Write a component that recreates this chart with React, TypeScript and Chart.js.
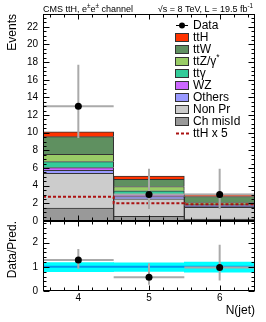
import React, { useEffect, useRef } from 'react';
import { Chart, registerables } from 'chart.js';
Chart.register(...registerables);

const FONT = '"Liberation Sans", Arial, Helvetica, sans-serif';

// ---------------- data ----------------
const nJetBins = [4, 5, 6];
const binHalfWidth = 0.5;
const chMisId = [1.45, 0.53, 0.22];
const nonPrompt = [3.96, 1.98, 1.33];
const others = [0.34, 0.27, 0.13];
const wz = [0.30, 0.19, 0.07];
const ttGamma = [0.68, 0.45, 0.10];
const ttZ = [0.82, 0.49, 0.25];
const ttW = [2.00, 0.82, 0.68];
const ttH = [0.55, 0.37, 0.26];
const ttHx5 = [2.75, 2.0, 1.9];
const dataObs = [13, 3, 3];
const dataLow = [9.4, 1.37, 1.37];
const dataHigh = [17.7, 5.92, 5.92];
const ratioObs = [1.28, 0.57, 0.97];
const ratioLow = [0.92, 0.26, 0.43];
const ratioHigh = [1.74, 1.15, 1.92];
const bandLow = [0.80, 0.81, 0.78];
const bandHigh = [1.18, 1.17, 1.20];
const unityLine = [1, 1, 1];
const xTickValues = [4, 5, 6];
const mainYTicks = [0, 2, 4, 6, 8, 10, 12, 14, 16, 18, 20, 22];
const ratioYTicks = [0, 1, 2];
const xRange = [3.5, 6.5];
const mainYRange = [0, 23.45];
const ratioYRange = [0, 2.9];

const stackNames = ['Ch misId', 'Non Pr', 'Others', 'WZ', 'ttγ', 'ttZ/γ*', 'ttW', 'ttH'];
const stackValues = [chMisId, nonPrompt, others, wz, ttGamma, ttZ, ttW, ttH];
const stackColors = ['#999999', '#cccccc', '#9999ff', '#cc66ff', '#33cc99', '#99cc66', '#5f9060', '#ff3300'];
const legendLabels = ['Data', 'ttH', 'ttW', 'ttZ/γ*', 'ttγ', 'WZ', 'Others', 'Non Pr', 'Ch misId', 'ttH x 5'];
const dashColor = '#aa1111';
const errColor = '#aaaaaa';

// ---------------- helpers ----------------
type Seg = [string, boolean?];
function drawRich(ctx: CanvasRenderingContext2D, segs: Seg[], x: number, y: number, size: number, align: 'left' | 'right') {
  const widths = segs.map(([t, sup]) => {
    ctx.font = `${sup ? size * 0.7 : size}px ${FONT}`;
    return ctx.measureText(t).width;
  });
  const total = widths.reduce((a, b) => a + b, 0);
  let cx = align === 'right' ? x - total : x;
  ctx.textAlign = 'left';
  segs.forEach(([t, sup], i) => {
    ctx.font = `${sup ? size * 0.7 : size}px ${FONT}`;
    ctx.fillText(t, cx, sup ? y - size * 0.4 : y);
    cx += widths[i];
  });
}

function frameTicksPlugin(id: string, xMinor: number, xMajor: number, yMinor: number, yMajor: number, xLen: number[], yLen: number[]) {
  return {
    id,
    afterDraw(chart: any) {
      const { ctx, chartArea: a } = chart;
      const xs = chart.scales.x;
      const ys = chart.scales.y;
      const L = Math.round(a.left) + 0.5;
      const R = Math.round(a.right) - 0.5;
      const T = Math.round(a.top) + 0.5;
      const B = Math.round(a.bottom) - 0.5;
      ctx.save();
      ctx.strokeStyle = '#000';
      ctx.lineWidth = 1;
      ctx.strokeRect(L, T, R - L, B - T);
      ctx.beginPath();
      const isMajor = (v: number, step: number) => Math.abs(v / step - Math.round(v / step)) < 1e-6;
      for (let k = Math.ceil(xs.min / xMinor - 1e-9); k <= Math.floor(xs.max / xMinor + 1e-9); k++) {
        const v = k * xMinor;
        const len = isMajor(v, xMajor) ? xLen[0] : xLen[1];
        const px = Math.round(xs.getPixelForValue(v)) + 0.5;
        ctx.moveTo(px, B); ctx.lineTo(px, B - len);
        ctx.moveTo(px, T); ctx.lineTo(px, T + len);
      }
      for (let k = Math.ceil(ys.min / yMinor - 1e-9); k <= Math.floor(ys.max / yMinor + 1e-9); k++) {
        const v = k * yMinor;
        const len = isMajor(v, yMajor) ? yLen[0] : yLen[1];
        const py = Math.round(ys.getPixelForValue(v)) + 0.5;
        ctx.moveTo(L, py); ctx.lineTo(L + len, py);
        ctx.moveTo(R, py); ctx.lineTo(R - len, py);
      }
      ctx.stroke();
      ctx.restore();
    },
  };
}

function errorBarPlugin(id: string, afterIndex: number, centers: number[], values: number[], lows: number[], highs: number[]) {
  return {
    id,
    afterDatasetDraw(chart: any, args: any) {
      if (args.index !== afterIndex) return;
      const { ctx, chartArea: a } = chart;
      const xs = chart.scales.x;
      const ys = chart.scales.y;
      ctx.save();
      ctx.beginPath();
      ctx.rect(a.left, a.top, a.right - a.left, a.bottom - a.top);
      ctx.clip();
      ctx.strokeStyle = errColor;
      ctx.lineWidth = 2;
      centers.forEach((c, i) => {
        const px = xs.getPixelForValue(c);
        const py = ys.getPixelForValue(values[i]);
        ctx.beginPath();
        ctx.moveTo(xs.getPixelForValue(c - binHalfWidth), py);
        ctx.lineTo(xs.getPixelForValue(c + binHalfWidth), py);
        ctx.moveTo(px, ys.getPixelForValue(lows[i]));
        ctx.lineTo(px, ys.getPixelForValue(highs[i]));
        ctx.stroke();
      });
      ctx.restore();
    },
  };
}

const stepData = (vals: number[]) => {
  const pts = nJetBins.map((x, i) => ({ x: x - binHalfWidth, y: vals[i] }));
  pts.push({ x: nJetBins[nJetBins.length - 1] + binHalfWidth, y: vals[vals.length - 1] });
  return pts;
};

const titlesLegendPlugin = {
  id: 'titlesLegend',
  afterDraw(chart: any) {
    const { ctx, chartArea: a } = chart;
    ctx.save();
    ctx.fillStyle = '#000';
    ctx.textBaseline = 'alphabetic';
    drawRich(ctx, [['CMS ttH, e'], ['±', true], ['e'], ['±', true], [' channel']], a.left, 12, 9, 'left');
    drawRich(ctx, [['√s = 8 TeV, L = 19.5 fb'], ['-1', true]], a.right - 2, 12, 9, 'right');

    const mx = 175;
    const tx = 193;
    legendLabels.forEach((lab, i) => {
      const y = 25 + 12 * i;
      if (lab === 'Data') {
        ctx.strokeStyle = '#000';
        ctx.lineWidth = 1;
        ctx.beginPath();
        ctx.moveTo(mx + 1, y + 0.5);
        ctx.lineTo(mx + 13, y + 0.5);
        ctx.stroke();
        ctx.fillStyle = '#000';
        ctx.beginPath();
        ctx.arc(mx + 7, y + 0.5, 3, 0, Math.PI * 2);
        ctx.fill();
      } else if (lab === 'ttH x 5') {
        ctx.strokeStyle = dashColor;
        ctx.lineWidth = 2;
        ctx.setLineDash([3, 2]);
        ctx.beginPath();
        ctx.moveTo(mx + 1, y + 0.5);
        ctx.lineTo(mx + 14, y + 0.5);
        ctx.stroke();
        ctx.setLineDash([]);
      } else {
        const idx = stackNames.indexOf(lab);
        ctx.fillStyle = stackColors[idx];
        ctx.fillRect(mx + 0.5, y - 4, 13, 9);
        ctx.strokeStyle = '#333';
        ctx.lineWidth = 1;
        ctx.strokeRect(mx + 0.5, y - 3.5, 13, 8);
      }
      ctx.fillStyle = '#000';
      ctx.textBaseline = 'middle';
      if (lab.endsWith('*')) {
        drawRich(ctx, [[lab.slice(0, -1)], ['*', true]], tx, y + 1, 12, 'left');
      } else {
        drawRich(ctx, [[lab]], tx, y + 1, 12, 'left');
      }
    });
    ctx.restore();
  },
};

export default function App() {
  const mainRef = useRef<HTMLCanvasElement>(null);
  const ratioRef = useRef<HTMLCanvasElement>(null);

  useEffect(() => {
    const cum = nJetBins.map(() => 0);
    const barDatasets: any[] = stackValues.map((vals, s) => {
      const data = nJetBins.map((x, i) => {
        const lo = cum[i];
        const hi = lo + vals[i];
        cum[i] = hi;
        return { x, y: [lo, hi] };
      });
      return {
        type: 'bar',
        label: stackNames[s],
        data,
        backgroundColor: stackColors[s],
        borderColor: '#333333',
        borderWidth: 1,
        grouped: false,
        barPercentage: 1,
        categoryPercentage: 1,
        order: 2,
      };
    });

    const mainChart = new Chart(mainRef.current!, {
      type: 'bar',
      data: {
        datasets: [
          ...barDatasets,
          {
            type: 'line',
            label: 'ttH x 5',
            data: stepData(ttHx5),
            stepped: true,
            borderColor: dashColor,
            borderWidth: 2,
            borderDash: [3, 2],
            pointRadius: 0,
            fill: false,
            order: 1,
          },
          {
            type: 'line',
            label: 'Data',
            data: nJetBins.map((x, i) => ({ x, y: dataObs[i] })),
            showLine: false,
            pointRadius: 3.5,
            pointBackgroundColor: '#000',
            pointBorderColor: '#000',
            pointBorderWidth: 0,
            order: 0,
          },
        ],
      } as any,
      options: {
        responsive: false,
        animation: false,
        events: [],
        layout: { padding: { top: 14, right: 11, bottom: 10, left: 0 } },
        plugins: { legend: { display: false }, tooltip: { enabled: false } },
        scales: {
          x: {
            type: 'linear',
            min: xRange[0],
            max: xRange[1],
            display: false,
            offset: false,
            afterBuildTicks: (s: any) => { s.ticks = xTickValues.map((v) => ({ value: v })); },
          },
          y: {
            type: 'linear',
            min: mainYRange[0],
            max: mainYRange[1],
            offset: false,
            grid: { display: false, drawTicks: false },
            border: { display: false },
            afterBuildTicks: (s: any) => { s.ticks = mainYTicks.map((v) => ({ value: v })); },
            ticks: { font: { family: FONT, size: 10 }, color: '#000', padding: 5 },
            title: { display: true, text: 'Events', align: 'end', color: '#000', font: { family: FONT, size: 12 }, padding: { top: 5, bottom: 0 } },
            afterFit: (s: any) => { s.width = 43; },
          },
        },
      } as any,
      plugins: [
        errorBarPlugin('mainErr', barDatasets.length, nJetBins, dataObs, dataLow, dataHigh),
        frameTicksPlugin('mainFrame', 0.2, 1, 0.5, 2, [5, 3], [6, 3]),
        titlesLegendPlugin,
      ],
    });

    const ratioChart = new Chart(ratioRef.current!, {
      type: 'bar',
      data: {
        datasets: [
          {
            type: 'bar',
            label: 'band',
            data: nJetBins.map((x, i) => ({ x, y: [bandLow[i], bandHigh[i]] })),
            backgroundColor: '#00ffff',
            borderWidth: 0,
            grouped: false,
            barPercentage: 1,
            categoryPercentage: 1,
            order: 2,
          },
          {
            type: 'line',
            label: 'unity',
            data: stepData(unityLine),
            stepped: true,
            borderColor: '#0099ee',
            borderWidth: 2,
            pointRadius: 0,
            fill: false,
            order: 1,
          },
          {
            type: 'line',
            label: 'Data/Pred.',
            data: nJetBins.map((x, i) => ({ x, y: ratioObs[i] })),
            showLine: false,
            pointRadius: 3.5,
            pointBackgroundColor: '#000',
            pointBorderColor: '#000',
            pointBorderWidth: 0,
            order: 0,
          },
        ],
      } as any,
      options: {
        responsive: false,
        animation: false,
        events: [],
        layout: { padding: { top: 22, right: 11, bottom: 0, left: 0 } },
        plugins: { legend: { display: false }, tooltip: { enabled: false } },
        scales: {
          x: {
            type: 'linear',
            min: xRange[0],
            max: xRange[1],
            offset: false,
            grid: { display: false, drawTicks: false },
            border: { display: false },
            afterBuildTicks: (s: any) => { s.ticks = xTickValues.map((v) => ({ value: v })); },
            ticks: { font: { family: FONT, size: 10 }, color: '#000', padding: 1, maxRotation: 0, autoSkip: false },
            title: { display: true, text: 'N(jet)', align: 'end', color: '#000', font: { family: FONT, size: 12 }, padding: { top: 0, bottom: 4 } },
            afterFit: (s: any) => { s.height = 31; },
          },
          y: {
            type: 'linear',
            min: ratioYRange[0],
            max: ratioYRange[1],
            offset: false,
            grid: { display: false, drawTicks: false },
            border: { display: false },
            afterBuildTicks: (s: any) => { s.ticks = ratioYTicks.map((v) => ({ value: v })); },
            ticks: { font: { family: FONT, size: 10 }, color: '#000', padding: 5 },
            title: { display: true, text: 'Data/Pred.', align: 'end', color: '#000', font: { family: FONT, size: 12 }, padding: { top: 5, bottom: 0 } },
            afterFit: (s: any) => { s.width = 43; },
          },
        },
      } as any,
      plugins: [
        errorBarPlugin('ratioErr', 1, nJetBins, ratioObs, ratioLow, ratioHigh),
        frameTicksPlugin('ratioFrame', 0.2, 1, 0.2, 1, [5, 3], [6, 3]),
      ],
    });

    return () => {
      mainChart.destroy();
      ratioChart.destroy();
    };
  }, []);

  return (
    <div style={{ position: 'fixed', left: 0, top: 0, width: 266, height: 322, background: '#fff', overflow: 'hidden' }}>
      <canvas ref={mainRef} width={266} height={232} style={{ position: 'absolute', left: 0, top: 0 }} />
      <canvas ref={ratioRef} width={266} height={123} style={{ position: 'absolute', left: 0, top: 199 }} />
    </div>
  );
}
